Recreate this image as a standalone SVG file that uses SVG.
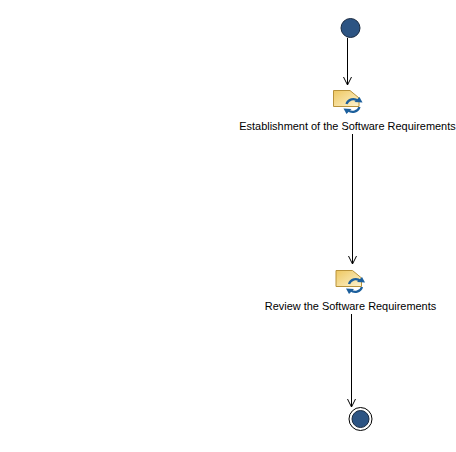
<svg xmlns="http://www.w3.org/2000/svg" width="456" height="452" viewBox="0 0 456 452">
<style>
.edge{fill:none;stroke:#000;stroke-width:1}
.head{fill:none;stroke:#000;stroke-width:1}
.label{font-family:"Liberation Sans",Arial,sans-serif;font-size:10.95px;fill:#000;text-anchor:middle}
.disc{fill:#2d5483;stroke:#1a2a40;stroke-width:1}
.doc{fill:url(#docFill);stroke:#b8923a;stroke-width:1}
.sync{fill:none;stroke:#1c5f9c;stroke-width:2.300}
.tip{fill:#1c5f9c}
</style>
<defs>
<linearGradient id="docFill" x1="0" y1="0" x2="1" y2="1">
<stop offset="0" stop-color="#eec760"/><stop offset="1" stop-color="#fdf3cf"/>
</linearGradient>
<g id="taskIcon">
<path class="doc" d="M0.5 0.5H17L26 8V16.500H0.5Z"/>
<path class="sync" d="M13.500 14A7 7 0 0 1 25 11"/>
<path class="sync" d="M26.500 17A7 7 0 0 1 15 20"/>
<path class="tip" d="M21.500 12L29.500 12.500L26.500 7Z"/>
<path class="tip" d="M18.500 19L10.500 18.500L13.500 24Z"/>
</g>
</defs>
<rect width="456" height="452" fill="#fff"/>
<g id="connectors">
<path class="edge" d="M347.500 38V85"/><path class="head" d="M343.500 77L347.500 85L351.500 77"/>
<path class="edge" d="M352.500 134V264"/><path class="head" d="M348.500 256L352.500 264L356.500 256"/>
<path class="edge" d="M351.500 314V407"/><path class="head" d="M347.500 399L351.500 407L355.500 399"/>
</g>
<g id="start"><circle class="disc" cx="350.500" cy="28" r="9.500"/></g>
<g id="task1">
<use href="#taskIcon" x="333" y="90"/>
<text class="label" x="347.500" y="130">Establishment of the Software Requirements</text>
</g>
<g id="task2">
<use href="#taskIcon" x="335.500" y="270"/>
<text class="label" x="350.500" y="310">Review the Software Requirements</text>
</g>
<g id="end">
<circle cx="360.500" cy="419" r="11.500" fill="#fff" stroke="#000" stroke-width="1"/>
<circle class="disc" cx="360.500" cy="419" r="8.500"/>
</g>
</svg>
